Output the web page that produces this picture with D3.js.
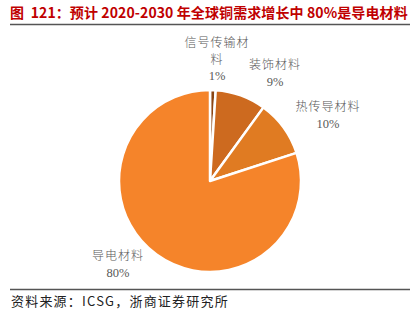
<!DOCTYPE html>
<html><head><meta charset="utf-8">
<script src="https://cdn.jsdelivr.net/npm/d3@7/dist/d3.min.js"></script>
<style>body{margin:0;background:#fff}svg{display:block}</style>
</head><body>
<svg id="c" width="420" height="325"></svg>
<script>
const categories = ["信号传输材料", "装饰材料", "热传导材料", "导电材料"];
const values = [1, 9, 10, 80];
const labelLines = [["信号传输材", "料", "1%"], ["装饰材料", "9%"], ["热传导材料", "10%"], ["导电材料", "80%"]];
const colors = ["#8B4513", "#CD6A1F", "#E07B22", "#F5842A"];

const svg = d3.select("#c");
svg.append("text").attr("x", 10).attr("y", 18)
  .attr("font-family", "Noto Sans CJK SC").attr("font-weight", "bold")
  .attr("font-size", 14).attr("fill", "#C00000").attr("letter-spacing", 0.1)
  .attr("xml:space", "preserve")
  .text("图  121：预计 2020-2030 年全球铜需求增长中 80%是导电材料");
svg.append("line").attr("x1", 10).attr("x2", 410).attr("y1", 24.5).attr("y2", 24.5)
  .attr("stroke", "#555").attr("stroke-width", 1.5);
svg.append("line").attr("x1", 10).attr("x2", 410).attr("y1", 289.5).attr("y2", 289.5)
  .attr("stroke", "#555").attr("stroke-width", 1.5);
svg.append("text").attr("x", 11).attr("y", 306)
  .attr("font-family", "Noto Sans CJK SC").attr("font-size", 13).attr("fill", "#222")
  .attr("letter-spacing", 1.2)
  .text("资料来源：ICSG，浙商证券研究所");

const cx = 210, cy = 181, r = 91;
const pie = d3.pie().sort(null).value(d => d)(values);
const arc = d3.arc().innerRadius(0).outerRadius(r);
const g = svg.append("g").attr("transform", `translate(${cx},${cy})`);
g.selectAll("path").data(pie).join("path")
  .attr("d", arc).attr("fill", (d, i) => colors[i])
  .attr("stroke", "#fff").attr("stroke-width", 2.5).attr("stroke-linejoin", "round");

const labelPos = [[217, 47], [275, 69], [328, 111], [118, 260]];
labelLines.forEach((lines, i) => {
  const t = svg.append("text").attr("text-anchor", "middle")
    .attr("fill", "#595959");
  lines.forEach((s, j) => {
    const pct = /%/.test(s);
    t.append("tspan").attr("x", labelPos[i][0]).attr("y", labelPos[i][1] + j * 16.5)
      .attr("font-family", pct ? "Liberation Serif" : "Noto Sans CJK SC")
      .attr("font-weight", pct ? null : 300)
      .attr("font-size", pct ? 12.5 : 12)
      .attr("letter-spacing", pct ? 0 : 1)
      .text(s);
  });
});
</script>
</body></html>
